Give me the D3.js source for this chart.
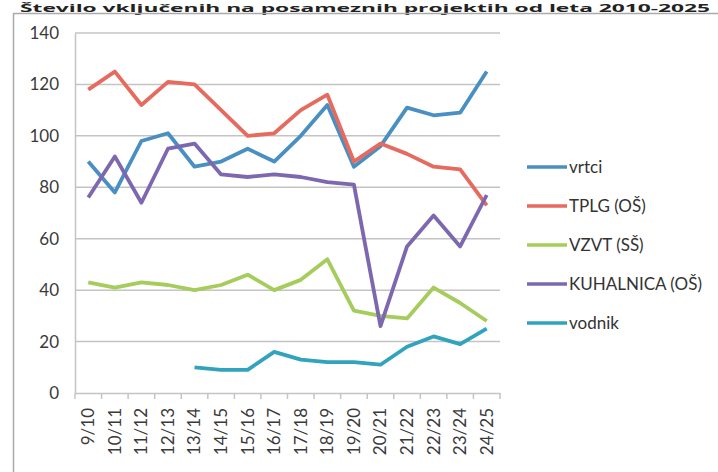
<!DOCTYPE html>
<html><head><meta charset="utf-8">
<script src="https://cdn.jsdelivr.net/npm/d3@7"></script>
<style>body{margin:0;background:#fff;}svg{display:block;}</style>
</head><body>
<svg id="c" width="718" height="472"></svg>
<script>
const categories = ["9/10","10/11","11/12","12/13","13/14","14/15","15/16","16/17","17/18","18/19","19/20","20/21","21/22","22/23","23/24","24/25"];
const vrtci     = [90,78,98,101,88,90,95,90,100,112,88,96,111,108,109,125];
const tplg      = [118,125,112,121,120,110,100,101,110,116,90,97,93,88,87,73];
const vzvt      = [43,41,43,42,40,42,46,40,44,52,32,30,29,41,35,28];
const kuhalnica = [76,92,74,95,97,85,84,85,84,82,81,26,57,69,57,77];
const vodnik    = [null,null,null,null,10,9,9,16,13,12,12,11,18,22,19,25];
const yTicks = [0,20,40,60,80,100,120,140];
const seriesNames = ["vrtci","TPLG (OŠ)","VZVT (SŠ)","KUHALNICA (OŠ)","vodnik"];
const seriesColors = ["#4a8fc2","#e66a5e","#a6cc5c","#7d68b0","#32a3bd"];
const seriesData = [vrtci,tplg,vzvt,kuhalnica,vodnik];

const svg = d3.select("#c");
const font = "Lato, 'Open Sans', sans-serif";

// title (squeezed into the top strip)
svg.append("text").attr("x",20).attr("y",12).attr("font-family","'Open Sans', sans-serif")
  .attr("font-weight","bold").attr("font-size",10.5).attr("fill","#222")
  .attr("textLength",690).attr("lengthAdjust","spacingAndGlyphs")
  .text("Število vključenih na posameznih projektih od leta 2010-2025");

// frame
svg.append("line").attr("x1",13).attr("x2",718).attr("y1",13.5).attr("y2",13.5).attr("stroke","#aaa").attr("stroke-width",1.5);
svg.append("line").attr("x1",13.5).attr("x2",13.5).attr("y1",13).attr("y2",472).attr("stroke","#aaa").attr("stroke-width",1.5);

const x = d3.scaleBand().domain(categories).range([75,500]);
const y = d3.scaleLinear().domain([0,140]).range([393,33]);

// gridlines
svg.append("g").selectAll("line").data(yTicks.filter(d=>d>0)).join("line")
  .attr("x1",75).attr("x2",500).attr("y1",d=>y(d)).attr("y2",d=>y(d))
  .attr("stroke","#c4c4c4").attr("stroke-width",1.5);

// y axis
const ya = svg.append("g").attr("transform","translate(75,0)")
  .call(d3.axisLeft(y).tickValues(yTicks).tickSize(0).tickPadding(16));
ya.select(".domain").attr("stroke","#c4c4c4").attr("stroke-width",1.5);
ya.selectAll("text").attr("font-family",font).attr("font-size",17).attr("fill","#3a3a3a");

// x axis
const xa = svg.append("g").attr("transform","translate(0,393)")
  .call(d3.axisBottom(x).tickSize(0).tickPadding(0));
xa.select(".domain").attr("stroke","#c4c4c4").attr("stroke-width",1.5);
xa.selectAll("text").attr("font-family",font).attr("font-size",17).attr("fill","#3a3a3a")
  .attr("text-anchor","end").attr("dy","0.35em")
  .attr("transform","translate(0,15) rotate(-90)");
// tick marks at band boundaries
svg.append("g").selectAll("line").data(categories.concat(["__end"])).join("line")
  .attr("x1",(d,i)=>75+i*x.step()).attr("x2",(d,i)=>75+i*x.step())
  .attr("y1",393).attr("y2",399).attr("stroke","#c4c4c4").attr("stroke-width",1.5);

// lines
const line = d3.line().defined(d=>d!=null)
  .x((d,i)=>x(categories[i])+x.bandwidth()/2).y(d=>y(d));
seriesData.forEach((s,k)=>{
  svg.append("path").datum(s).attr("d",line).attr("fill","none")
    .attr("stroke",seriesColors[k]).attr("stroke-width",3.8).attr("stroke-linejoin","round");
});

// legend
const lg = svg.append("g");
seriesNames.forEach((n,k)=>{
  const yy = 167 + k*39;
  lg.append("line").attr("x1",527).attr("x2",567).attr("y1",yy).attr("y2",yy)
    .attr("stroke",seriesColors[k]).attr("stroke-width",3.5);
  lg.append("text").attr("x",569).attr("y",yy).attr("dy","0.35em")
    .attr("font-family",font).attr("font-size",17).attr("fill","#333").text(n);
});
</script>
</body></html>
